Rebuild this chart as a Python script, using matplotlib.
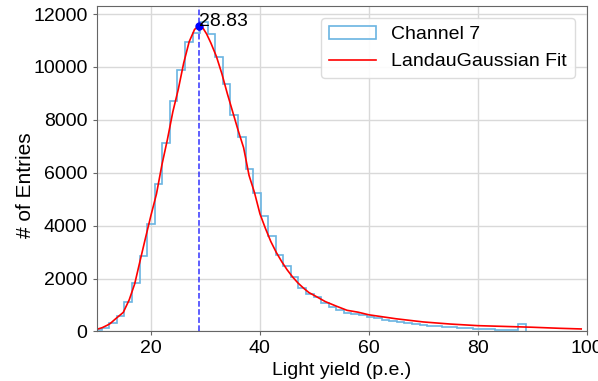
import matplotlib; matplotlib.use("Agg")
import matplotlib.pyplot as plt
import numpy as np

plt.rcParams['font.family'] = ['Liberation Sans', 'DejaVu Sans']

# --- channel 7 light-yield spectrum (counts per bin) ---
bin_lo, bin_hi, n_bins = 9.55, 88.78, 57
counts = [60, 144, 310, 600, 1120, 1820, 2860, 4080, 5590, 7130,
          8700, 9890, 10950, 11300, 11680, 11240, 10390, 9345, 8200, 7342,
          6140, 5225, 4367, 3610, 2892, 2476, 2072, 1645, 1418, 1300,
          1075, 925, 826, 705, 670, 605, 560, 499, 435, 380,
          360, 310, 280, 262, 219, 200, 181, 165, 144, 125,
          106, 90, 83, 65, 45, 55, 284]

# --- Landau (x) Gaussian fit, sampled ---
fit_x = [10.0, 11.0, 12.0, 12.5, 13.5, 14.9, 16.0, 17.0, 18.0, 19.0,
         20.0, 21.0, 22.0, 23.0, 24.0, 25.0, 26.0, 27.0, 28.0, 28.83,
         29.5, 30.2, 31.0, 32.0, 33.0, 34.0, 35.0, 36.0, 37.0, 38.0,
         39.0, 40.0, 41.0, 42.0, 43.0, 44.0, 45.0, 46.0, 47.0, 48.0,
         49.0, 50.0, 52.0, 54.0, 56.0, 58.0, 60.0, 65.0, 70.0, 75.0,
         80.0, 85.0, 90.0, 95.0, 99.0]
fit_y = [80, 140, 240, 300, 480, 720, 1200, 1800, 2680, 3550,
         4400, 5200, 6300, 7250, 8300, 9150, 10150, 10950, 11420, 11550,
         11480, 11250, 10900, 10400, 9750, 9000, 8300, 7600, 6950, 5900,
         5250, 4450, 3900, 3400, 2990, 2640, 2330, 2060, 1830, 1640,
         1470, 1360, 1130, 960, 800, 730, 630, 480, 360, 280,
         220, 190, 160, 120, 95]
mpv = 28.83
mpv_y = 11550

edges = np.linspace(bin_lo, bin_hi, n_bins + 1)
centers = 0.5 * (edges[:-1] + edges[1:])

fig = plt.figure(figsize=(5.98, 3.81), dpi=100)
ax = fig.add_axes([0.1615, 0.130, 0.8195, 0.854])

ax.hist(centers, bins=edges, weights=counts, histtype='step',
        color='#6ab4e2', lw=1.2, label='Channel 7')
ax.plot(fit_x, fit_y, color='red', lw=1.2, label='LandauGaussian Fit')
ax.axvline(mpv, color='blue', ls='--', lw=1.1, alpha=0.8)
ax.plot([mpv], [mpv_y], 'o', color='blue', ms=5)
ax.text(mpv, mpv_y - 150, '%.2f' % mpv, fontsize=14, ha='left', va='bottom')

ax.set_xlim(10, 100)
ax.set_ylim(0, 12300)
ax.set_xticks([20, 40, 60, 80, 100])
ax.set_yticks(range(0, 12001, 2000))
ax.tick_params(labelsize=14, length=3, color='0.4')
ax.grid(True, color='0.85', lw=1)
ax.set_axisbelow(True)
for s in ax.spines.values():
    s.set_color('0.4')

ax.set_xlabel('Light yield (p.e.)', fontsize=14, labelpad=3)
ax.set_ylabel('# of Entries', fontsize=15, labelpad=-2)
ax.yaxis.set_label_coords(-0.125, 0.45)
ax.legend(fontsize=14, loc='upper right', framealpha=0.9, edgecolor='0.85',
          handlelength=2.4, borderaxespad=0.6)

fig.savefig('out.png', dpi=100)
